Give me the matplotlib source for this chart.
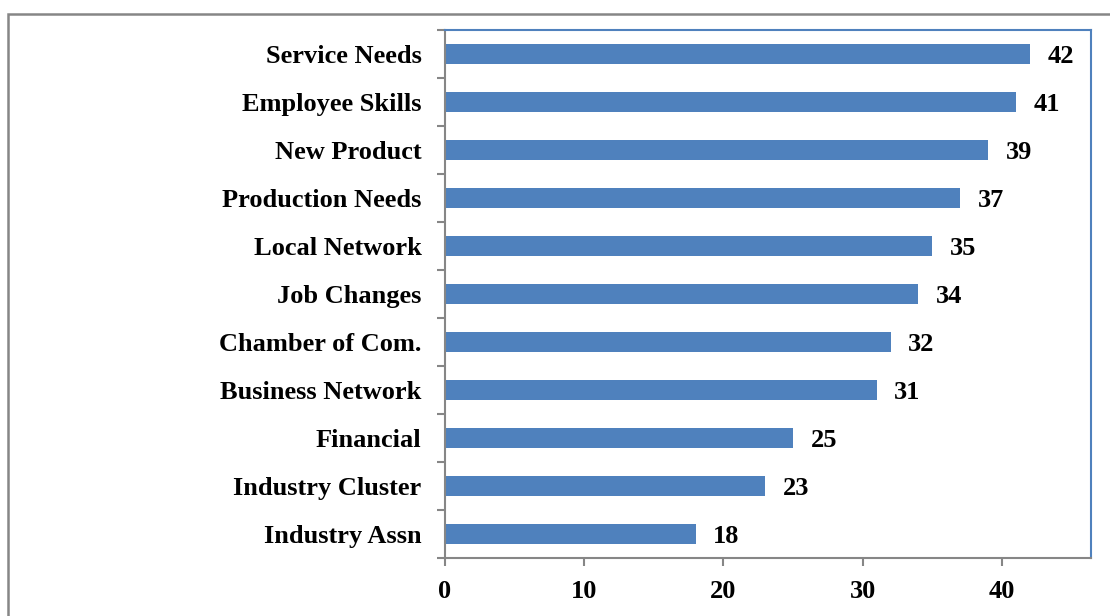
import matplotlib.pyplot as plt
from matplotlib.patches import Rectangle

categories = ['Industry Assn', 'Industry Cluster', 'Financial', 'Business Network',
              'Chamber of Com.', 'Job Changes', 'Local Network', 'Production Needs',
              'New Product', 'Employee Skills', 'Service Needs']
values = [18, 23, 25, 31, 32, 34, 35, 37, 39, 41, 42]
x_ticks = [0, 10, 20, 30, 40]

plt.rcParams['font.family'] = ['Liberation Serif', 'DejaVu Serif']
plt.rcParams['font.weight'] = 'bold'

W, H = 1110, 616
fig = plt.figure(figsize=(W / 100, H / 100), dpi=100)

# outer chart border (runs off the right and bottom edges)
fig.patches.append(Rectangle((8 / W, 1 - 1200 / H), 1200 / W, (1200 - 14) / H,
                             transform=fig.transFigure, fill=False,
                             edgecolor='#868686', linewidth=1.8))

ax = fig.add_axes([445 / W, 1 - 558 / H, (1091 - 445) / W, (558 - 30) / H])

pos = range(len(categories))
ax.barh(pos, values, height=0.4, color='#4F81BD')
for p, v in zip(pos, values):
    ax.text(v + 1.25, p, str(v), va='center_baseline', ha='left',
            fontsize=19, fontweight='bold')

ax.set_xlim(0, 46.4)
ax.set_ylim(-0.5, len(categories) - 0.5)
ax.set_xticks(x_ticks)
ax.set_yticks([p - 0.5 for p in range(len(categories) + 1)], minor=False)
ax.set_yticklabels([])
ax.set_yticks(list(pos), minor=True)
ax.set_yticklabels(categories, minor=True, fontsize=19, fontweight='bold')
ax.tick_params(axis='y', which='minor', length=0, pad=17)
ax.tick_params(axis='y', which='major', length=6, color='#868686', width=1.5)
ax.tick_params(axis='x', length=6, color='#868686', width=1.5, pad=10, labelsize=19)
for lbl in ax.get_xticklabels():
    lbl.set_fontweight('bold')

ax.spines['left'].set_color('#868686')
ax.spines['bottom'].set_color('#868686')
ax.spines['top'].set_color('#4F81BD')
ax.spines['right'].set_color('#4F81BD')
for s in ax.spines.values():
    s.set_linewidth(1.5)

fig.savefig('out.png', dpi=100)
